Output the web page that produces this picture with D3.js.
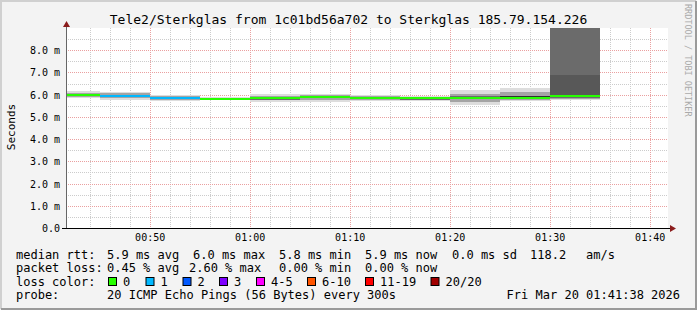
<!DOCTYPE html>
<html>
<head>
<meta charset="utf-8">
<script src="https://cdn.jsdelivr.net/npm/d3@7"></script>
<style>
  html, body { margin: 0; padding: 0; background: #fff; }
  svg { display: block; font-family: 'DejaVu Sans Mono', monospace; }
</style>
</head>
<body>
<div id="chart"></div>
<script>
// 5 minute steps, start time of each step
const stepStart = ['00:40', '00:45', '00:50', '00:55', '01:00', '01:05', '01:10', '01:15', '01:20', '01:25', '01:30'];
const medianMs = [5.99, 5.96, 5.84, 5.82, 5.84, 5.90, 5.87, 5.85, 5.87, 5.87, 5.94];
const lostPings = [0, 1, 1, 0, 0, 0, 0, 0, 0, 0, 0];

// smoke band levels (smokeping level of 10) and [lo, hi] per step for each level
const smokeLevels = [1, 4, 7, 8, 10];
const smoke = [
  [[5.84, 6.17], [5.88, 6.08], [5.93, 6.02], [5.95, 6.01], [5.98, 6.00]],
  [[5.76, 6.13], [5.84, 6.06], [5.90, 6.00], [5.92, 5.98], [5.95, 5.97]],
  [[5.72, 5.99], [5.76, 5.94], [5.80, 5.88], [5.81, 5.87], [5.83, 5.85]],
  [[5.76, 5.88], [5.78, 5.86], [5.80, 5.84], [5.81, 5.83], [5.82, 5.83]],
  [[5.68, 6.02], [5.74, 5.96], [5.78, 5.88], [5.79, 5.86], [5.80, 5.84]],
  [[5.68, 6.02], [5.74, 5.97], [5.84, 5.94], [5.86, 5.93], [5.89, 5.91]],
  [[5.72, 5.97], [5.78, 5.93], [5.83, 5.90], [5.84, 5.89], [5.86, 5.88]],
  [[5.70, 5.95], [5.74, 5.91], [5.78, 5.87], [5.79, 5.86], [5.80, 5.82]],
  [[5.54, 6.21], [5.66, 6.02], [5.80, 5.92], [5.82, 5.90], [5.86, 5.88]],
  [[5.72, 6.29], [5.76, 6.12], [5.84, 5.96], [5.86, 5.95], [5.90, 5.93]],
  [[5.74, 12.0], [5.80, 12.0], [5.86, 12.0], [5.88, 6.90], [5.92, 5.96]]
];

const yTicks = [0, 1, 2, 3, 4, 5, 6, 7, 8];
const lossLabels = ['0', '1', '2', '3', '4-5', '6-10', '11-19', '20/20'];
const lossColors = ['#26ff00', '#00b8ff', '#0059ff', '#7e00ff', '#ff00ff', '#ff5500', '#ff0000', '#a10000'];

const statsRtt = ['5.9 ms avg', '6.0 ms max', '5.8 ms min', '5.9 ms now', '0.0 ms sd', '118.2', 'am/s'];
const statsLoss = ['0.45 % avg', '2.60 % max', '0.00 % min', '0.00 % now'];
const probeText = '20 ICMP Echo Pings (56 Bytes) every 300s';
const stampText = 'Fri Mar 20 01:41:38 2026';
const titleText = 'Tele2/Sterkglas from 1c01bd56a702 to Sterkglas 185.79.154.226';

const W = 697, H = 310;
const plot = { left: 66, right: 666, top: 28, bottom: 228 };

const day = (hm, s = 0) => {
  const [h, m] = hm.split(':').map(Number);
  return new Date(2026, 2, 20, h, m, s);
};
const t0 = day('00:41', 38), t1 = day('01:41', 38);

const x = d3.scaleTime().domain([t0, t1]).range([plot.left, plot.right]);
const y = d3.scaleLinear().domain([0, 9]).range([plot.bottom, plot.top]);

const lossColor = (n) => {
  if (n <= 3) return lossColors[n];
  if (n <= 5) return lossColors[4];
  if (n <= 10) return lossColors[5];
  if (n <= 19) return lossColors[6];
  return lossColors[7];
};
const shade = (lvl) => {
  const c = Math.round(190 / 10 * (10 - lvl) + 50);
  return d3.rgb(c, c, c).formatHex();
};

const svg = d3.select('#chart').append('svg')
  .attr('width', W)
  .attr('height', H)
  .attr('viewBox', [0, 0, W, H].join(' '));

// background + 3d frame
svg.append('rect').attr('width', W).attr('height', H).attr('fill', '#f3f3f3');
svg.append('path').attr('d', `M1,${H - 1}V1H${W - 1}`).attr('fill', 'none').attr('stroke', '#d0d0d0').attr('stroke-width', 2);
svg.append('path').attr('d', `M1,${H - 1}H${W - 1}V1`).attr('fill', 'none').attr('stroke', '#9a9a9a').attr('stroke-width', 2);

svg.append('rect')
  .attr('x', plot.left).attr('y', plot.top)
  .attr('width', plot.right - plot.left + 2).attr('height', plot.bottom - plot.top)
  .attr('fill', '#fff');

// grid
const grid = svg.append('g').attr('shape-rendering', 'crispEdges');
const minorT = x.ticks(d3.timeMinute.every(2)).filter((d) => d.getMinutes() % 10 !== 0 && x(d) > plot.left + 5);
const majorT = x.ticks(d3.timeMinute.every(10));
const minorY = d3.range(0.5, 9, 1);

grid.selectAll('.vmin').data(minorT).join('line')
  .attr('x1', (d) => Math.round(x(d)) + 0.5).attr('x2', (d) => Math.round(x(d)) + 0.5)
  .attr('y1', plot.top).attr('y2', plot.bottom)
  .attr('stroke', '#cccccc').attr('stroke-dasharray', '1,1');
grid.selectAll('.hmin').data(minorY).join('line')
  .attr('x1', plot.left).attr('x2', plot.right + 2)
  .attr('y1', (d) => Math.round(y(d)) + 0.5).attr('y2', (d) => Math.round(y(d)) + 0.5)
  .attr('stroke', '#cccccc').attr('stroke-dasharray', '1,1');
grid.selectAll('.vmaj').data(majorT).join('line')
  .attr('x1', (d) => Math.round(x(d)) + 0.5).attr('x2', (d) => Math.round(x(d)) + 0.5)
  .attr('y1', plot.top).attr('y2', plot.bottom)
  .attr('stroke', '#eaa0a0').attr('stroke-dasharray', '1,1');
grid.selectAll('.hmaj').data(yTicks.filter((d) => d > 0)).join('line')
  .attr('x1', plot.left).attr('x2', plot.right + 2)
  .attr('y1', (d) => Math.round(y(d)) + 0.5).attr('y2', (d) => Math.round(y(d)) + 0.5)
  .attr('stroke', '#eaa0a0').attr('stroke-dasharray', '1,1');

// data
const clip = svg.append('clipPath').attr('id', 'clip')
  .append('rect').attr('x', plot.left + 1).attr('y', plot.top)
  .attr('width', plot.right - plot.left).attr('height', plot.bottom - plot.top);

const data = stepStart.map((s, i) => {
  const a = day(s);
  return { a, b: d3.timeMinute.offset(a, 5), med: medianMs[i], loss: lostPings[i], bands: smoke[i] };
});

const marks = svg.append('g').attr('clip-path', 'url(#clip)').attr('shape-rendering', 'crispEdges');

smokeLevels.forEach((lvl, k) => {
  marks.append('g').selectAll('rect').data(data).join('rect')
    .attr('x', (d) => x(d.a))
    .attr('width', (d) => x(d.b) - x(d.a))
    .attr('y', (d) => y(d.bands[k][1]))
    .attr('height', (d) => y(d.bands[k][0]) - y(d.bands[k][1]))
    .attr('fill', shade(lvl));
});

marks.append('g').selectAll('line').data(data).join('line')
  .attr('x1', (d) => x(d.a)).attr('x2', (d) => x(d.b))
  .attr('y1', (d) => y(d.med)).attr('y2', (d) => y(d.med))
  .attr('stroke', (d) => lossColor(d.loss))
  .attr('stroke-width', 2);

// axes
const xAxis = svg.append('g')
  .attr('transform', `translate(0,${plot.bottom})`)
  .call(d3.axisBottom(x).ticks(d3.timeMinute.every(10)).tickFormat(d3.timeFormat('%H:%M')).tickSize(0));
xAxis.select('.domain').remove();
xAxis.selectAll('text')
  .attr('y', 13).attr('dy', 0)
  .attr('fill', '#000')
  .style('font', "10px 'DejaVu Sans Mono', monospace");

const yAxis = svg.append('g')
  .attr('transform', `translate(${plot.left},0)`)
  .call(d3.axisLeft(y).tickValues(yTicks).tickFormat((d) => d === 0 ? '0.0' : `${d.toFixed(1)} m`).tickSize(0).tickPadding(6));
yAxis.select('.domain').remove();
yAxis.selectAll('text')
  .attr('dy', '0.35em')
  .attr('fill', '#000')
  .style('font', "10px 'DejaVu Sans Mono', monospace");

svg.append('line')
  .attr('x1', plot.left + 0.5).attr('x2', plot.left + 0.5)
  .attr('y1', plot.bottom + 0.5).attr('y2', plot.top - 4)
  .attr('stroke', '#666');
svg.append('line')
  .attr('x1', plot.left - 4).attr('x2', plot.right + 5)
  .attr('y1', plot.bottom + 0.5).attr('y2', plot.bottom + 0.5)
  .attr('stroke', '#000');
svg.append('path')
  .attr('d', `M${plot.left - 3},${plot.top - 1}L${plot.left + 0.5},${plot.top - 7}L${plot.left + 4},${plot.top - 1}Z`)
  .attr('fill', '#8b1c1c');
svg.append('path')
  .attr('d', `M${plot.right + 4},${plot.bottom - 3}L${plot.right + 10},${plot.bottom + 0.5}L${plot.right + 4},${plot.bottom + 4}Z`)
  .attr('fill', '#8b1c1c');

// titles
svg.append('text')
  .attr('x', W / 2).attr('y', 24)
  .attr('text-anchor', 'middle')
  .style('font', "13px 'DejaVu Sans Mono', monospace")
  .text(titleText);

svg.append('text')
  .attr('transform', 'translate(15,127) rotate(-90)')
  .attr('text-anchor', 'middle')
  .style('font', "11px 'DejaVu Sans Mono', monospace")
  .text('Seconds');

svg.append('text')
  .attr('transform', 'translate(685,4) rotate(90)')
  .attr('fill', '#aaaaaa')
  .style('font', "8.5px 'DejaVu Sans Mono', monospace")
  .text('RRDTOOL / TOBI OETIKER');

// legend
const lg = svg.append('g').style('font', "12px 'DejaVu Sans Mono', monospace").attr('fill', '#000');
const rows = [258.5, 272, 285.5, 298.5];
const rttX = [107, 193, 279, 365, 452, 530, 586];
const lossX = [107, 189, 279, 365];

lg.append('text').attr('x', 16).attr('y', rows[0]).text('median rtt:');
lg.selectAll('.rtt').data(statsRtt).join('text')
  .attr('x', (d, i) => rttX[i]).attr('y', rows[0]).text((d) => d);

lg.append('text').attr('x', 16).attr('y', rows[1]).text('packet loss:');
lg.selectAll('.pl').data(statsLoss).join('text')
  .attr('x', (d, i) => lossX[i]).attr('y', rows[1]).text((d) => d);

lg.append('text').attr('x', 16).attr('y', rows[2]).text('loss color:');
const boxX = [108, 145.5, 182.5, 219, 256, 307, 365, 430.5];
const items = lg.selectAll('.li').data(lossLabels).join('g')
  .attr('transform', (d, i) => `translate(${boxX[i]},0)`);
items.append('rect')
  .attr('x', 0.5).attr('y', rows[2] - 8)
  .attr('width', 8).attr('height', 8)
  .attr('fill', (d, i) => lossColors[i])
  .attr('stroke', '#000');
items.append('text').attr('x', 15).attr('y', rows[2]).text((d) => d);

lg.append('text').attr('x', 16).attr('y', rows[3]).text('probe:');
lg.append('text').attr('x', 107).attr('y', rows[3]).text(probeText);
lg.append('text').attr('x', 680).attr('y', rows[3]).attr('text-anchor', 'end').text(stampText);
</script>
</body>
</html>
